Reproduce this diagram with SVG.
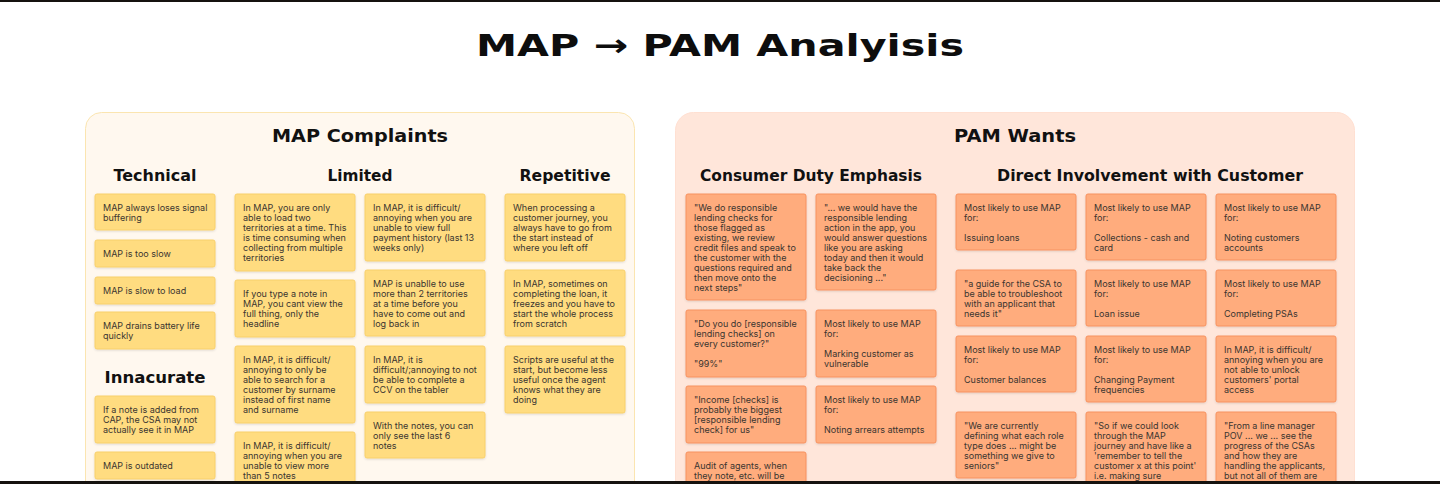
<svg xmlns="http://www.w3.org/2000/svg" width="1440" height="484" viewBox="0 0 1440 484">
  <style>
    .h1 { font-family: "DejaVu Sans", "Liberation Sans", sans-serif; font-weight: 700; fill: #0d0d0d; }
    .h2 { font-family: "DejaVu Sans", "Liberation Sans", sans-serif; font-weight: 700; font-size: 18px; fill: #111; }
    .h3 { font-family: "DejaVu Sans", "Liberation Sans", sans-serif; font-weight: 700; font-size: 15px; fill: #111; }
    .t { font-family: Inter, "Liberation Sans", sans-serif; font-size: 9px; fill: #3a3530; }
    .y { fill: #FFDC80; stroke: #F8D06A; stroke-width: 1; filter: url(#sh); }
    .o { fill: #FFAC7D; stroke: #F79260; stroke-width: 1; filter: url(#sh); }
  </style>
  <defs>
    <filter id="sh" x="-10%" y="-10%" width="120%" height="130%">
      <feDropShadow dx="0" dy="1" stdDeviation="0.8" flood-color="#000" flood-opacity="0.12"/>
    </filter>
  </defs>

  <rect x="0" y="0" width="1440" height="484" fill="#ffffff"/>
  <rect x="0" y="0" width="1440" height="2" fill="#15120f"/>

  <text class="h1" x="720" y="56" font-size="31" text-anchor="middle" textLength="488" lengthAdjust="spacingAndGlyphs">MAP → PAM Analyisis</text>

  <!-- Section frames -->
  <g id="frame-map-complaints">
    <rect x="85.5" y="112.5" width="549" height="400" rx="16" fill="#FFF8EF" stroke="#FBE5B0"/>
    <text class="h2" x="360" y="142" text-anchor="middle" textLength="176" lengthAdjust="spacingAndGlyphs">MAP Complaints</text>
    <text class="h3" x="155" y="181" text-anchor="middle" textLength="83" lengthAdjust="spacingAndGlyphs">Technical</text>
    <text class="h3" x="360" y="181" text-anchor="middle" textLength="65" lengthAdjust="spacingAndGlyphs">Limited</text>
    <text class="h3" x="565" y="181" text-anchor="middle" textLength="91" lengthAdjust="spacingAndGlyphs">Repetitive</text>
    <text class="h3" x="155" y="383" text-anchor="middle" textLength="101" lengthAdjust="spacingAndGlyphs">Innacurate</text>
  </g>
  <g id="frame-pam-wants">
    <rect x="675.5" y="112.5" width="679" height="400" rx="18" fill="#FFE6DA" stroke="#FFE0D2"/>
    <text class="h2" x="1015" y="142" text-anchor="middle" textLength="122" lengthAdjust="spacingAndGlyphs">PAM Wants</text>
    <text class="h3" x="811" y="181" text-anchor="middle" textLength="222" lengthAdjust="spacingAndGlyphs">Consumer Duty Emphasis</text>
    <text class="h3" x="1150" y="181" text-anchor="middle" textLength="306" lengthAdjust="spacingAndGlyphs">Direct Involvement with Customer</text>
  </g>

  <!-- Technical -->
  <g id="tech-1"><rect class="y" x="95" y="194" width="120" height="36" rx="2"/>
    <text class="t" x="103" y="211"><tspan x="103">MAP always loses signal</tspan><tspan x="103" dy="10">buffering</tspan></text></g>
  <g id="tech-2"><rect class="y" x="95" y="240" width="120" height="27" rx="2"/>
    <text class="t" x="103" y="257">MAP is too slow</text></g>
  <g id="tech-3"><rect class="y" x="95" y="277" width="120" height="27" rx="2"/>
    <text class="t" x="103" y="294">MAP is slow to load</text></g>
  <g id="tech-4"><rect class="y" x="95" y="312" width="120" height="37" rx="2"/>
    <text class="t" x="103" y="329"><tspan x="103">MAP drains battery life</tspan><tspan x="103" dy="10">quickly</tspan></text></g>

  <!-- Innacurate -->
  <g id="inacc-1"><rect class="y" x="95" y="396" width="120" height="47" rx="2"/>
    <text class="t" x="103" y="413"><tspan x="103">If a note is added from</tspan><tspan x="103" dy="10">CAP, the CSA may not</tspan><tspan x="103" dy="10">actually see it in MAP</tspan></text></g>
  <g id="inacc-2"><rect class="y" x="95" y="452" width="120" height="27" rx="2"/>
    <text class="t" x="103" y="469">MAP is outdated</text></g>

  <!-- Limited -->
  <g id="lim-1"><rect class="y" x="235" y="194" width="120" height="77" rx="2"/>
    <text class="t" x="243" y="211"><tspan x="243">In MAP, you are only</tspan><tspan x="243" dy="10">able to load two</tspan><tspan x="243" dy="10">territories at a time. This</tspan><tspan x="243" dy="10">is time consuming when</tspan><tspan x="243" dy="10">collecting from multiple</tspan><tspan x="243" dy="10">territories</tspan></text></g>
  <g id="lim-2"><rect class="y" x="235" y="280" width="120" height="57" rx="2"/>
    <text class="t" x="243" y="297"><tspan x="243">If you type a note in</tspan><tspan x="243" dy="10">MAP, you cant view the</tspan><tspan x="243" dy="10">full thing, only the</tspan><tspan x="243" dy="10">headline</tspan></text></g>
  <g id="lim-3"><rect class="y" x="235" y="346" width="120" height="77" rx="2"/>
    <text class="t" x="243" y="363"><tspan x="243">In MAP, it is difficult/</tspan><tspan x="243" dy="10">annoying to only be</tspan><tspan x="243" dy="10">able to search for a</tspan><tspan x="243" dy="10">customer by surname</tspan><tspan x="243" dy="10">instead of first name</tspan><tspan x="243" dy="10">and surname</tspan></text></g>
  <g id="lim-4"><rect class="y" x="235" y="432" width="120" height="57" rx="2"/>
    <text class="t" x="243" y="449"><tspan x="243">In MAP, it is difficult/</tspan><tspan x="243" dy="10">annoying when you are</tspan><tspan x="243" dy="10">unable to view more</tspan><tspan x="243" dy="10">than 5 notes</tspan></text></g>
  <g id="lim-5"><rect class="y" x="365" y="194" width="120" height="67" rx="2"/>
    <text class="t" x="373" y="211"><tspan x="373">In MAP, it is difficult/</tspan><tspan x="373" dy="10">annoying when you are</tspan><tspan x="373" dy="10">unable to view full</tspan><tspan x="373" dy="10">payment history (last 13</tspan><tspan x="373" dy="10">weeks only)</tspan></text></g>
  <g id="lim-6"><rect class="y" x="365" y="270" width="120" height="66" rx="2"/>
    <text class="t" x="373" y="287"><tspan x="373">MAP is unablle to use</tspan><tspan x="373" dy="10">more than 2 territories</tspan><tspan x="373" dy="10">at a time before you</tspan><tspan x="373" dy="10">have to come out and</tspan><tspan x="373" dy="10">log back in</tspan></text></g>
  <g id="lim-7"><rect class="y" x="365" y="346" width="120" height="57" rx="2"/>
    <text class="t" x="373" y="363"><tspan x="373">In MAP, it is</tspan><tspan x="373" dy="10">difficult/;annoying to not</tspan><tspan x="373" dy="10">be able to complete a</tspan><tspan x="373" dy="10">CCV on the tabler</tspan></text></g>
  <g id="lim-8"><rect class="y" x="365" y="412" width="120" height="46" rx="2"/>
    <text class="t" x="373" y="429"><tspan x="373">With the notes, you can</tspan><tspan x="373" dy="10">only see the last 6</tspan><tspan x="373" dy="10">notes</tspan></text></g>

  <!-- Repetitive -->
  <g id="rep-1"><rect class="y" x="505" y="194" width="120" height="67" rx="2"/>
    <text class="t" x="513" y="211"><tspan x="513">When processing a</tspan><tspan x="513" dy="10">customer journey, you</tspan><tspan x="513" dy="10">always have to go from</tspan><tspan x="513" dy="10">the start instead of</tspan><tspan x="513" dy="10">where you left off</tspan></text></g>
  <g id="rep-2"><rect class="y" x="505" y="270" width="120" height="66" rx="2"/>
    <text class="t" x="513" y="287"><tspan x="513">In MAP, sometimes on</tspan><tspan x="513" dy="10">completing the loan, it</tspan><tspan x="513" dy="10">freezes and you have to</tspan><tspan x="513" dy="10">start the whole process</tspan><tspan x="513" dy="10">from scratch</tspan></text></g>
  <g id="rep-3"><rect class="y" x="505" y="346" width="120" height="67" rx="2"/>
    <text class="t" x="513" y="363"><tspan x="513">Scripts are useful at the</tspan><tspan x="513" dy="10">start, but become less</tspan><tspan x="513" dy="10">useful once the agent</tspan><tspan x="513" dy="10">knows what they are</tspan><tspan x="513" dy="10">doing</tspan></text></g>

  <!-- Consumer Duty Emphasis -->
  <g id="cd-1"><rect class="o" x="686" y="194" width="120" height="106" rx="2"/>
    <text class="t" x="694" y="211"><tspan x="694">"We do responsible</tspan><tspan x="694" dy="10">lending checks for</tspan><tspan x="694" dy="10">those flagged as</tspan><tspan x="694" dy="10">existing, we review</tspan><tspan x="694" dy="10">credit files and speak to</tspan><tspan x="694" dy="10">the customer with the</tspan><tspan x="694" dy="10">questions required and</tspan><tspan x="694" dy="10">then move onto the</tspan><tspan x="694" dy="10">next steps"</tspan></text></g>
  <g id="cd-2"><rect class="o" x="816" y="194" width="120" height="96" rx="2"/>
    <text class="t" x="824" y="211"><tspan x="824">"... we would have the</tspan><tspan x="824" dy="10">responsible lending</tspan><tspan x="824" dy="10">action in the app, you</tspan><tspan x="824" dy="10">would answer questions</tspan><tspan x="824" dy="10">like you are asking</tspan><tspan x="824" dy="10">today and then it would</tspan><tspan x="824" dy="10">take back the</tspan><tspan x="824" dy="10">decisioning ..."</tspan></text></g>
  <g id="cd-3"><rect class="o" x="686" y="310" width="120" height="67" rx="2"/>
    <text class="t" x="694" y="327"><tspan x="694">"Do you do [responsible</tspan><tspan x="694" dy="10">lending checks] on</tspan><tspan x="694" dy="10">every customer?"</tspan><tspan x="694" dy="20">"99%"</tspan></text></g>
  <g id="cd-4"><rect class="o" x="816" y="310" width="120" height="67" rx="2"/>
    <text class="t" x="824" y="327"><tspan x="824">Most likely to use MAP</tspan><tspan x="824" dy="10">for:</tspan><tspan x="824" dy="20">Marking customer as</tspan><tspan x="824" dy="10">vulnerable</tspan></text></g>
  <g id="cd-5"><rect class="o" x="686" y="386" width="120" height="57" rx="2"/>
    <text class="t" x="694" y="403"><tspan x="694">"Income [checks] is</tspan><tspan x="694" dy="10">probably the biggest</tspan><tspan x="694" dy="10">[responsible lending</tspan><tspan x="694" dy="10">check] for us"</tspan></text></g>
  <g id="cd-6"><rect class="o" x="816" y="386" width="120" height="57" rx="2"/>
    <text class="t" x="824" y="403"><tspan x="824">Most likely to use MAP</tspan><tspan x="824" dy="10">for:</tspan><tspan x="824" dy="20">Noting arrears attempts</tspan></text></g>
  <g id="cd-7"><rect class="o" x="686" y="452" width="120" height="57" rx="2"/>
    <text class="t" x="694" y="469"><tspan x="694">Audit of agents, when</tspan><tspan x="694" dy="10">they note, etc. will be</tspan></text></g>

  <!-- Direct Involvement with Customer -->
  <g id="di-1"><rect class="o" x="956" y="194" width="120" height="56" rx="2"/>
    <text class="t" x="964" y="211"><tspan x="964">Most likely to use MAP</tspan><tspan x="964" dy="10">for:</tspan><tspan x="964" dy="20">Issuing loans</tspan></text></g>
  <g id="di-2"><rect class="o" x="1086" y="194" width="120" height="66" rx="2"/>
    <text class="t" x="1094" y="211"><tspan x="1094">Most likely to use MAP</tspan><tspan x="1094" dy="10">for:</tspan><tspan x="1094" dy="20">Collections - cash and</tspan><tspan x="1094" dy="10">card</tspan></text></g>
  <g id="di-3"><rect class="o" x="1216" y="194" width="120" height="66" rx="2"/>
    <text class="t" x="1224" y="211"><tspan x="1224">Most likely to use MAP</tspan><tspan x="1224" dy="10">for:</tspan><tspan x="1224" dy="20">Noting customers</tspan><tspan x="1224" dy="10">accounts</tspan></text></g>
  <g id="di-4"><rect class="o" x="956" y="270" width="120" height="56" rx="2"/>
    <text class="t" x="964" y="287"><tspan x="964">"a guide for the CSA to</tspan><tspan x="964" dy="10">be able to troubleshoot</tspan><tspan x="964" dy="10">with an applicant that</tspan><tspan x="964" dy="10">needs it"</tspan></text></g>
  <g id="di-5"><rect class="o" x="1086" y="270" width="120" height="56" rx="2"/>
    <text class="t" x="1094" y="287"><tspan x="1094">Most likely to use MAP</tspan><tspan x="1094" dy="10">for:</tspan><tspan x="1094" dy="20">Loan issue</tspan></text></g>
  <g id="di-6"><rect class="o" x="1216" y="270" width="120" height="56" rx="2"/>
    <text class="t" x="1224" y="287"><tspan x="1224">Most likely to use MAP</tspan><tspan x="1224" dy="10">for:</tspan><tspan x="1224" dy="20">Completing PSAs</tspan></text></g>
  <g id="di-7"><rect class="o" x="956" y="336" width="120" height="56" rx="2"/>
    <text class="t" x="964" y="353"><tspan x="964">Most likely to use MAP</tspan><tspan x="964" dy="10">for:</tspan><tspan x="964" dy="20">Customer balances</tspan></text></g>
  <g id="di-8"><rect class="o" x="1086" y="336" width="120" height="66" rx="2"/>
    <text class="t" x="1094" y="353"><tspan x="1094">Most likely to use MAP</tspan><tspan x="1094" dy="10">for:</tspan><tspan x="1094" dy="20">Changing Payment</tspan><tspan x="1094" dy="10">frequencies</tspan></text></g>
  <g id="di-9"><rect class="o" x="1216" y="336" width="120" height="66" rx="2"/>
    <text class="t" x="1224" y="353"><tspan x="1224">In MAP, it is difficult/</tspan><tspan x="1224" dy="10">annoying when you are</tspan><tspan x="1224" dy="10">not able to unlock</tspan><tspan x="1224" dy="10">customers' portal</tspan><tspan x="1224" dy="10">access</tspan></text></g>
  <g id="di-10"><rect class="o" x="956" y="412" width="120" height="66" rx="2"/>
    <text class="t" x="964" y="429"><tspan x="964">"We are currently</tspan><tspan x="964" dy="10">defining what each role</tspan><tspan x="964" dy="10">type does ... might be</tspan><tspan x="964" dy="10">something we give to</tspan><tspan x="964" dy="10">seniors"</tspan></text></g>
  <g id="di-11"><rect class="o" x="1086" y="412" width="120" height="86" rx="2"/>
    <text class="t" x="1094" y="429"><tspan x="1094">"So if we could look</tspan><tspan x="1094" dy="10">through the MAP</tspan><tspan x="1094" dy="10">journey and have like a</tspan><tspan x="1094" dy="10">'remember to tell the</tspan><tspan x="1094" dy="10">customer x at this point'</tspan><tspan x="1094" dy="10">i.e. making sure</tspan></text></g>
  <g id="di-12"><rect class="o" x="1216" y="412" width="120" height="86" rx="2"/>
    <text class="t" x="1224" y="429"><tspan x="1224">"From a line manager</tspan><tspan x="1224" dy="10">POV ... we ... see the</tspan><tspan x="1224" dy="10">progress of the CSAs</tspan><tspan x="1224" dy="10">and how they are</tspan><tspan x="1224" dy="10">handling the applicants,</tspan><tspan x="1224" dy="10">but not all of them are</tspan></text></g>

  <!-- bottom edge band -->
  <rect x="0" y="481" width="1440" height="3" fill="#15120f"/>
</svg>
